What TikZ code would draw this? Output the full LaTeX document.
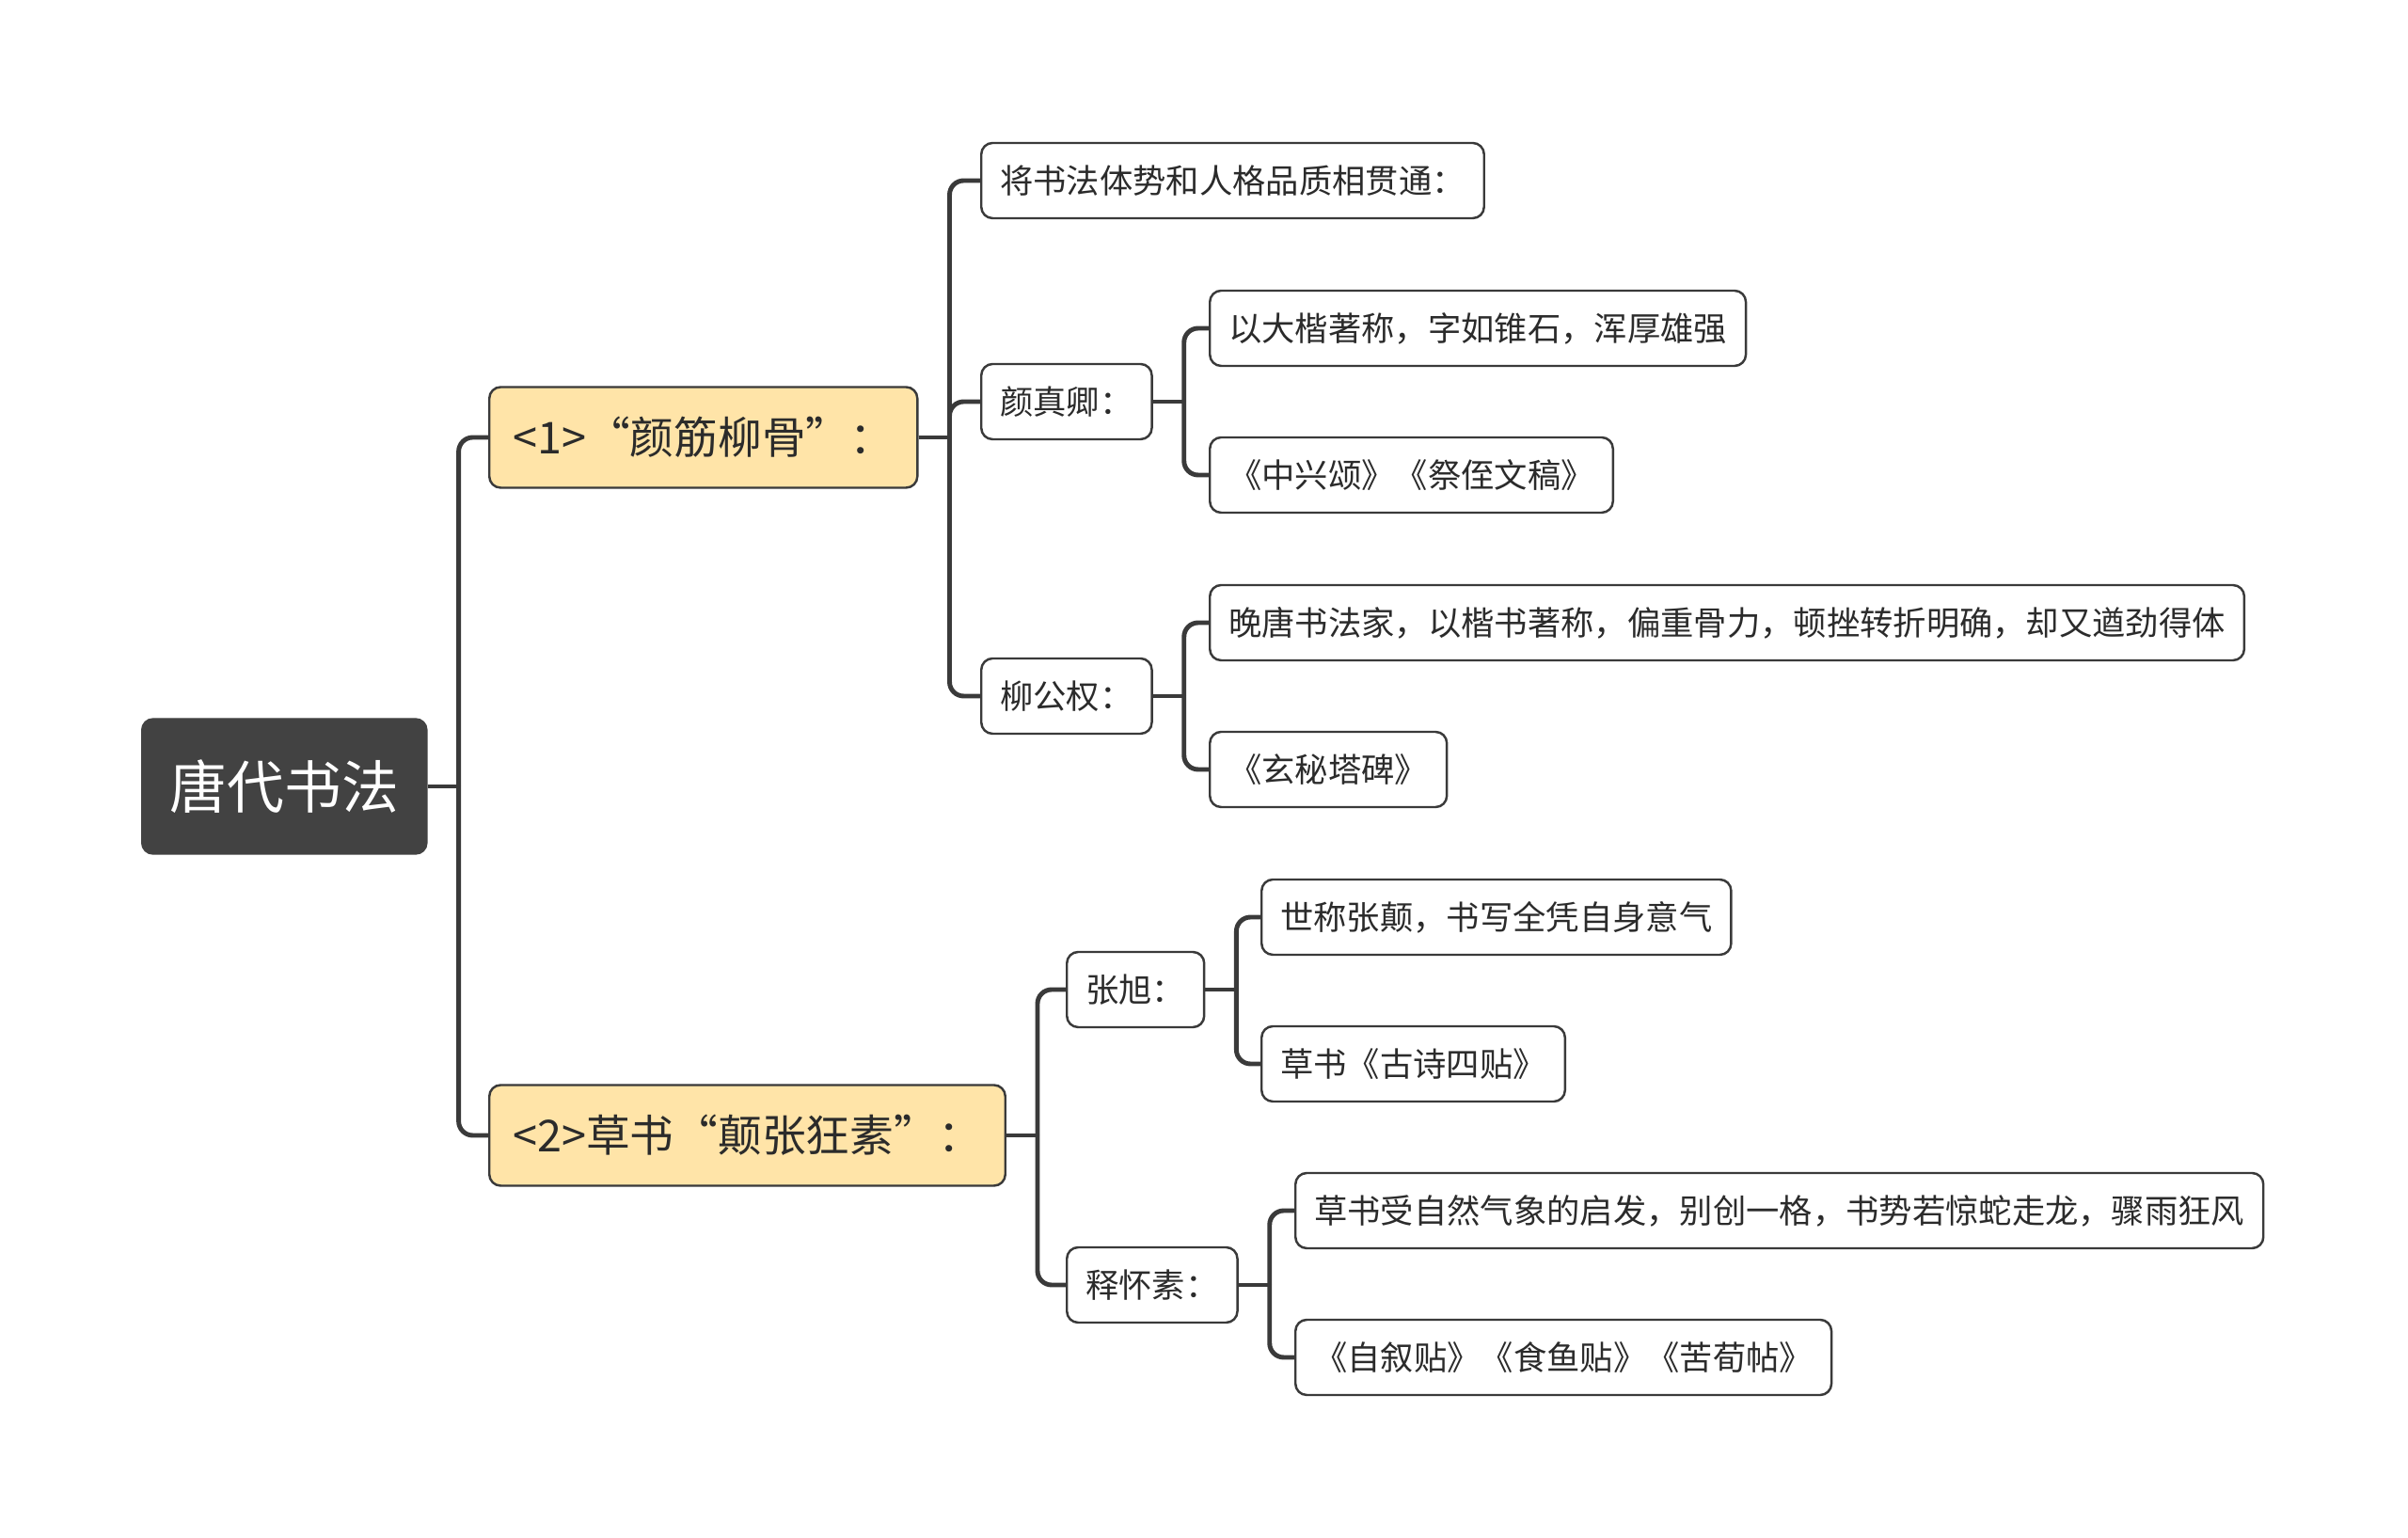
\documentclass[tikz,border=0pt]{standalone}
\usepackage{fontspec}
\setmainfont{Noto Sans CJK SC}
\usepackage{tikz}
\usetikzlibrary{positioning, calc}
\definecolor{RootGray}{HTML}{424242}
\definecolor{TopicYellow}{HTML}{FFE4A8}
\definecolor{LineGray}{HTML}{3A3A3A}
\definecolor{TextDark}{HTML}{2B2B2B}

\begin{document}
\begin{tikzpicture}[
  root/.style={rectangle, rounded corners=0.12cm, fill=RootGray, draw=RootGray, text=white, font=\fontsize{17.3}{20}\selectfont, minimum height=1.44cm, inner xsep=0.3cm, anchor=west},
  topic/.style={rectangle, rounded corners=0.12cm, fill=TopicYellow, draw=LineGray, line width=0.7pt, text=TextDark, font=\fontsize{13.3}{16}\selectfont, minimum height=1.07cm, inner xsep=0.25cm, anchor=west},
  leaf/.style={rectangle, rounded corners=0.12cm, fill=white, draw=LineGray, line width=0.7pt, text=TextDark, font=\fontsize{10.05}{12}\selectfont, minimum height=0.8cm, inner xsep=0.2cm, anchor=west},
  link/.style={draw=LineGray, line width=1.4pt},
]
  \fill[white] (0,0) rectangle (25.6,-16.35);
  \useasboundingbox (0,0) rectangle (25.6,-16.35);
  % main branches
  \node[root] (root) at (1.50,-8.36) {唐代书法};
  \node[topic] (t1) at (5.19,-4.65) {<1>“颜筋柳骨”：};
  \node[topic] (t2) at (5.19,-12.07) {<2>草书“颠张狂素”：};
  % yan jin liu gu
  \node[leaf] (t1a) at (10.42,-1.92) {将书法体势和人格品质相贯通：};
  \node[leaf] (yan) at (10.42,-4.27) {颜真卿：};
  \node[leaf] (liu) at (10.42,-7.40) {柳公权：};
  \node[leaf] (yan1) at (12.85,-3.49) {以大楷著称，字如锥石，浑厚雄强};
  \node[leaf] (yan2) at (12.85,-5.05) {《中兴颂》《祭侄文稿》};
  \node[leaf] (liu1) at (12.85,-6.62) {晚唐书法家，以楷书著称，偏重骨力，顿挫转折明确，却又遒劲得体};
  \node[leaf] (liu2) at (12.85,-8.18) {《玄秘塔碑》};
  % dian zhang kuang su
  \node[leaf] (zhang) at (11.33,-10.52) {张旭：};
  \node[leaf] (huai) at (11.33,-13.66) {释怀素：};
  \node[leaf] (zhang1) at (13.40,-9.75) {世称张颠，书写全凭自身意气};
  \node[leaf] (zhang2) at (13.40,-11.31) {草书《古诗四贴》};
  \node[leaf] (huai1) at (13.76,-12.87) {草书受自然气象的启发，别创一格，书势若惊蛇走龙，骤雨狂风};
  \node[leaf] (huai2) at (13.76,-14.43) {《自叙贴》《食鱼贴》《苦荀帖》};
  % connectors: stub to the bus, then round the corner into the child
  \foreach \p/\c in {root/t1, root/t2, t1/t1a, t1/yan, t1/liu, yan/yan1, yan/yan2,
      liu/liu1, liu/liu2, t2/zhang, t2/huai, zhang/zhang1, zhang/zhang2, huai/huai1, huai/huai2} {
    \draw[link] (\p.east) -- ++(0.33,0);
    \draw[link, rounded corners=0.15cm] ($(\p.east)+(0.33,0)$) |- (\c.west);
  }
\end{tikzpicture}
\end{document}
